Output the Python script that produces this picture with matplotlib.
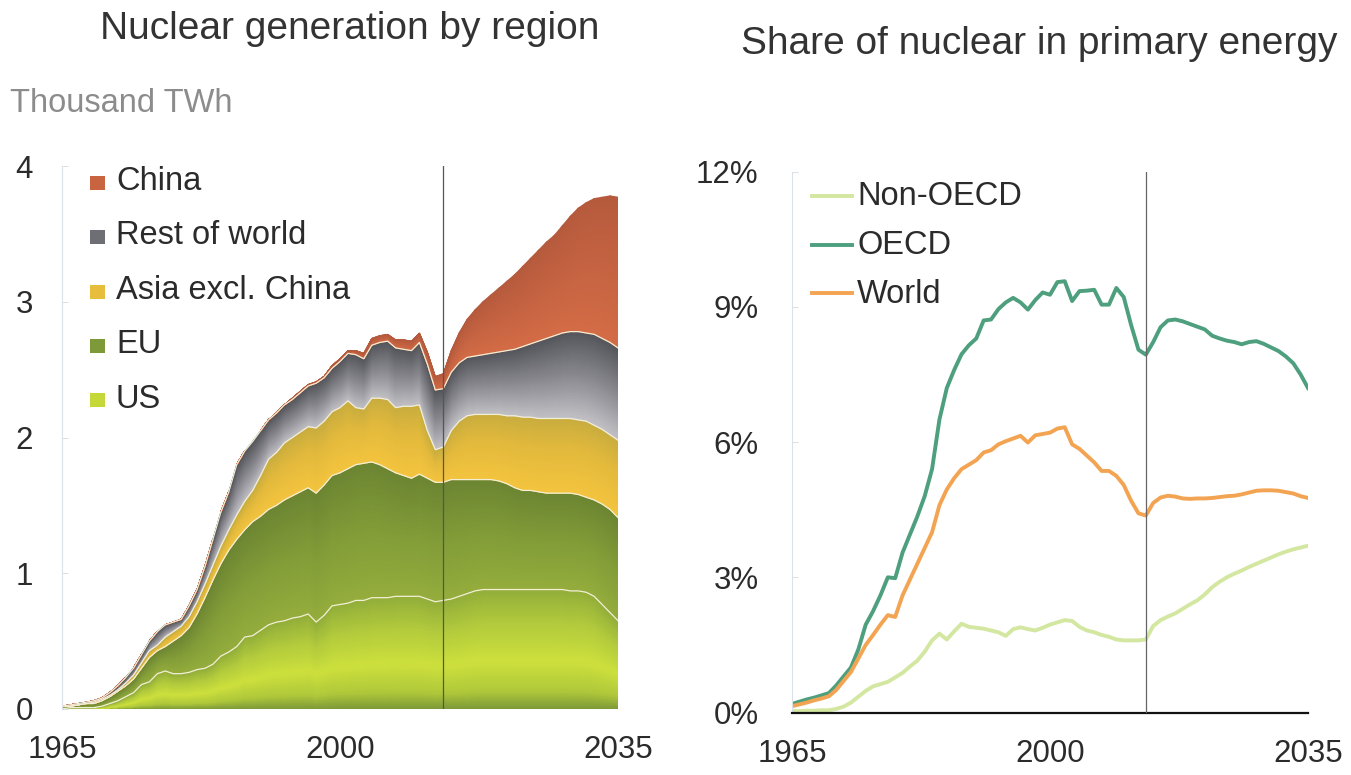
import numpy as np
import matplotlib
matplotlib.use("Agg")
import matplotlib.pyplot as plt
from matplotlib.colors import LinearSegmentedColormap
from matplotlib.patches import Rectangle
from matplotlib.lines import Line2D

plt.rcParams['font.family'] = ['Liberation Sans', 'DejaVu Sans']

# ---------------- data ----------------
years = np.arange(1965, 2036)
split_year = 2013

# Left chart: nuclear generation by region, thousand TWh (per-region values)
us = [0.00, 0.01, 0.01, 0.01, 0.01,
      0.02, 0.04, 0.06, 0.09, 0.12,
      0.18, 0.20, 0.26, 0.28, 0.26,
      0.26, 0.27, 0.29, 0.30, 0.33,
      0.39, 0.42, 0.46, 0.53, 0.54,
      0.58, 0.62, 0.64, 0.65, 0.67,
      0.68, 0.70, 0.64, 0.69, 0.76,
      0.77, 0.78, 0.80, 0.80, 0.82,
      0.82, 0.82, 0.83, 0.83, 0.83,
      0.83, 0.81, 0.79, 0.80, 0.81,
      0.83, 0.85, 0.87, 0.88, 0.88,
      0.88, 0.88, 0.88, 0.88, 0.88,
      0.88, 0.88, 0.88, 0.88, 0.87,
      0.87, 0.86, 0.83, 0.77, 0.71,
      0.65]
eu = [0.02, 0.01, 0.02, 0.03, 0.03,
      0.04, 0.05, 0.07, 0.08, 0.10,
      0.12, 0.18, 0.17, 0.18, 0.24,
      0.28, 0.33, 0.41, 0.52, 0.62,
      0.68, 0.75, 0.79, 0.79, 0.84,
      0.84, 0.85, 0.86, 0.89, 0.90,
      0.92, 0.93, 0.95, 0.96, 0.96,
      0.97, 0.99, 1.00, 1.01, 1.00,
      0.98, 0.95, 0.91, 0.89, 0.87,
      0.90, 0.89, 0.88, 0.87, 0.88,
      0.86, 0.84, 0.82, 0.81, 0.81,
      0.80, 0.78, 0.75, 0.73, 0.73,
      0.72, 0.71, 0.71, 0.71, 0.72,
      0.71, 0.70, 0.71, 0.74, 0.76,
      0.76]
asia = [0.00, 0.00, 0.00, 0.00, 0.01,
        0.01, 0.01, 0.01, 0.02, 0.03,
        0.04, 0.05, 0.04, 0.07, 0.07,
        0.07, 0.08, 0.09, 0.10, 0.11,
        0.13, 0.15, 0.18, 0.21, 0.23,
        0.30, 0.37, 0.39, 0.42, 0.43,
        0.44, 0.45, 0.48, 0.47, 0.47,
        0.48, 0.50, 0.42, 0.40, 0.47,
        0.49, 0.51, 0.48, 0.51, 0.53,
        0.51, 0.35, 0.24, 0.26, 0.36,
        0.43, 0.47, 0.48, 0.48, 0.48,
        0.49, 0.50, 0.53, 0.54, 0.54,
        0.54, 0.55, 0.55, 0.55, 0.55,
        0.55, 0.56, 0.55, 0.55, 0.55,
        0.57]
rest = [0.00, 0.01, 0.01, 0.01, 0.01,
        0.01, 0.02, 0.03, 0.04, 0.05,
        0.06, 0.07, 0.10, 0.09, 0.07,
        0.05, 0.08, 0.09, 0.13, 0.19,
        0.25, 0.28, 0.37, 0.37, 0.36,
        0.33, 0.29, 0.29, 0.28, 0.28,
        0.29, 0.30, 0.33, 0.32, 0.32,
        0.34, 0.35, 0.39, 0.37, 0.39,
        0.41, 0.43, 0.44, 0.42, 0.41,
        0.46, 0.49, 0.44, 0.43, 0.43,
        0.43, 0.43, 0.43, 0.44, 0.45,
        0.46, 0.48, 0.49, 0.52, 0.54,
        0.57, 0.59, 0.61, 0.63, 0.64,
        0.65, 0.65, 0.67, 0.67, 0.68,
        0.68]
china = [0.00] * 26 + [
        0.00, 0.00, 0.00,
        0.01, 0.01, 0.01, 0.01, 0.01,
        0.02, 0.02, 0.02, 0.03, 0.04,
        0.05, 0.05, 0.05, 0.06, 0.07,
        0.07, 0.07, 0.09, 0.10, 0.11,
        0.16, 0.22, 0.28, 0.34, 0.39,
        0.43, 0.47, 0.51, 0.55, 0.59,
        0.63, 0.67, 0.71, 0.74, 0.79,
        0.85, 0.91, 0.96, 1.00, 1.04,
        1.08, 1.11]

# Right chart: share of nuclear in primary energy, %
oecd = [0.19, 0.24, 0.29, 0.33, 0.38,
        0.43, 0.60, 0.80, 1.00, 1.40,
        1.95, 2.25, 2.60, 3.00, 2.98,
        3.55, 3.95, 4.35, 4.80, 5.40,
        6.50, 7.20, 7.60, 7.95, 8.15,
        8.30, 8.70, 8.72, 8.95, 9.10,
        9.20, 9.10, 8.94, 9.15, 9.32,
        9.27, 9.55, 9.57, 9.13, 9.35,
        9.36, 9.38, 9.05, 9.05, 9.42,
        9.22, 8.60, 8.05, 7.94, 8.22,
        8.55, 8.70, 8.72, 8.68, 8.62,
        8.56, 8.50, 8.36, 8.30, 8.25,
        8.22, 8.17, 8.22, 8.24, 8.18,
        8.10, 8.02, 7.90, 7.75, 7.50,
        7.20]
world = [0.14, 0.18, 0.22, 0.27, 0.31,
         0.36, 0.50, 0.70, 0.90, 1.20,
         1.50, 1.72, 1.95, 2.16, 2.12,
         2.60, 2.95, 3.30, 3.65, 4.00,
         4.60, 4.95, 5.20, 5.40, 5.50,
         5.60, 5.77, 5.82, 5.95, 6.02,
         6.08, 6.14, 5.99, 6.15, 6.18,
         6.21, 6.30, 6.33, 5.95, 5.85,
         5.70, 5.55, 5.36, 5.36, 5.25,
         5.05, 4.70, 4.42, 4.37, 4.65,
         4.77, 4.81, 4.79, 4.75, 4.74,
         4.75, 4.75, 4.76, 4.78, 4.80,
         4.81, 4.84, 4.88, 4.92, 4.93,
         4.93, 4.92, 4.89, 4.86, 4.80,
         4.76]
non_oecd = [0.03, 0.03, 0.04, 0.04, 0.05,
            0.05, 0.08, 0.13, 0.22, 0.35,
            0.48, 0.58, 0.63, 0.68, 0.78,
            0.88, 1.02, 1.15, 1.35, 1.60,
            1.75, 1.62, 1.80, 1.97, 1.90,
            1.88, 1.86, 1.82, 1.78, 1.70,
            1.85, 1.89, 1.85, 1.82, 1.88,
            1.95, 2.00, 2.05, 2.03, 1.90,
            1.82, 1.78, 1.72, 1.68, 1.62,
            1.60, 1.60, 1.60, 1.62, 1.92,
            2.05, 2.13, 2.20, 2.30, 2.40,
            2.49, 2.62, 2.78, 2.90, 3.00,
            3.08, 3.15, 3.23, 3.30, 3.37,
            3.44, 3.51, 3.57, 3.62, 3.66,
            3.70]

left_ticks = [0, 1, 2, 3, 4]
right_ticks = [0, 3, 6, 9, 12]
x_ticks = [1965, 2000, 2035]

# ---------------- styling ----------------
W, H = 1351, 775
fig = plt.figure(figsize=(W / 100, H / 100), dpi=100)
fig.patch.set_facecolor('white')
TXT = '#2b2b2b'


def fx(px):
    return px / W


def fy(py):
    return 1 - py / H


def cm(stops):
    return LinearSegmentedColormap.from_list('c', stops)


layer_styles = [
    ('US', cm([(0, '#7d9a38'), (0.15, '#b0c93a'), (0.4, '#cde03c'), (0.7, '#b4cc3c'), (1, '#93ae3a')]), '#c4d83a'),
    ('EU', cm([(0, '#94ad3c'), (0.5, '#829c38'), (1, '#6c8532')]), '#7e9a38'),
    ('Asia excl. China', cm([(0, '#f4c43e'), (0.6, '#e2b93c'), (1, '#c9ad3e')]), '#e8bd3c'),
    ('Rest of world', cm([(0, '#c2c1c6'), (0.5, '#8a8990'), (1, '#55555c')]), '#6e6e75'),
    ('China', cm([(0, '#d46c46'), (1, '#b65a3d')]), '#c8643f'),
]

# ---------------- left chart ----------------
ax = fig.add_axes([fx(62), fy(709), fx(618) - fx(62), fy(166) - fy(709)])
series = [np.array(us), np.array(eu), np.array(asia), np.array(rest), np.array(china)]
x = years.astype(float)
lower = np.zeros_like(x)
n = 30
t = np.linspace(0, 1, n)
tops = []
for vals, (name, cmap, _) in zip(series, layer_styles):
    upper = lower + vals
    X = np.tile(x, (n, 1))
    Y = lower[None, :] + t[:, None] * (upper - lower)[None, :]
    C = np.tile(t[:, None], (1, len(x)))
    ax.pcolormesh(X, Y, C, shading='gouraud', cmap=cmap, vmin=0, vmax=1, zorder=1)
    tops.append(upper)
    lower = upper
for up in tops[:-1]:
    ax.plot(x, up, color='#f3efd6', lw=0.9, zorder=2)

ax.axvline(split_year, color='#555555', lw=0.9, zorder=3)
ax.set_xlim(1965, 2035)
ax.set_ylim(0, 4)
ax.set_xticks(x_ticks)
ax.set_yticks(left_ticks)
ax.set_yticklabels([str(v) for v in left_ticks])
ax.tick_params(axis='x', length=0, pad=19, labelsize=22.5, labelcolor=TXT)
ax.tick_params(axis='y', direction='in', length=4, width=0.6, color='#d4dae0',
               pad=21, labelsize=22.5, labelcolor=TXT)
for s in ['top', 'right', 'bottom']:
    ax.spines[s].set_visible(False)
ax.spines['left'].set_color('#dbe1e6')
ax.spines['left'].set_linewidth(0.8)

# legend (left)
legend_order = [4, 3, 2, 1, 0]
for i, idx in enumerate(legend_order):
    name, _, col = layer_styles[idx]
    base = 190 + 54.5 * i
    fig.patches.append(Rectangle((fx(90), fy(base - 0.5)), fx(15), fy(0) - fy(14),
                                 transform=fig.transFigure, facecolor=col, edgecolor='none'))
    fig.text(fx(116), fy(base), name, fontsize=23.5, color=TXT, va='baseline', ha='left')

fig.text(fx(350), fy(39), 'Nuclear generation by region', fontsize=28, color='#333333',
         ha='center', va='baseline')
fig.text(fx(10), fy(112), 'Thousand TWh', fontsize=23.5, color='#8c8c8c', ha='left', va='baseline')

# ---------------- right chart ----------------
ax2 = fig.add_axes([fx(792), fy(712.5), fx(1308) - fx(792), fy(171.7) - fy(712.5)])
line_styles = [('Non-OECD', non_oecd, '#d3e7a1'),
               ('OECD', oecd, '#4d9f7d'),
               ('World', world, '#f3a452')]
for name, vals, col in line_styles:
    ax2.plot(x, vals, color=col, lw=2.8, solid_joinstyle='round', zorder=2)
ax2.axvline(split_year, color='#666666', lw=0.9, zorder=3)
ax2.set_xlim(1965, 2035)
ax2.set_ylim(0, 12)
ax2.set_xticks(x_ticks)
ax2.set_yticks(right_ticks)
ax2.set_yticklabels([f'{v}%' for v in right_ticks])
ax2.tick_params(axis='x', length=0, pad=19, labelsize=22.5, labelcolor=TXT)
ax2.tick_params(axis='y', direction='in', length=4, width=0.6, color='#d4dae0',
                pad=24, labelsize=22.5, labelcolor=TXT)
for s in ['top', 'right']:
    ax2.spines[s].set_visible(False)
ax2.spines['left'].set_color('#dbe1e6')
ax2.spines['left'].set_linewidth(0.8)
ax2.spines['bottom'].set_color('#111111')
ax2.spines['bottom'].set_linewidth(1.6)

for i, (name, _, col) in enumerate(line_styles):
    yl = 195.7 + 48.8 * i
    fig.add_artist(Line2D([fx(812), fx(852)], [fy(yl), fy(yl)], transform=fig.transFigure,
                          color=col, lw=2.8))
    fig.text(fx(857), fy(yl + 9.5), name, fontsize=23.5, color=TXT, va='baseline', ha='left')

fig.text(fx(1039), fy(54), 'Share of nuclear in primary energy', fontsize=28, color='#333333',
         ha='center', va='baseline')

fig.savefig('out.png', dpi=100, facecolor='white')
